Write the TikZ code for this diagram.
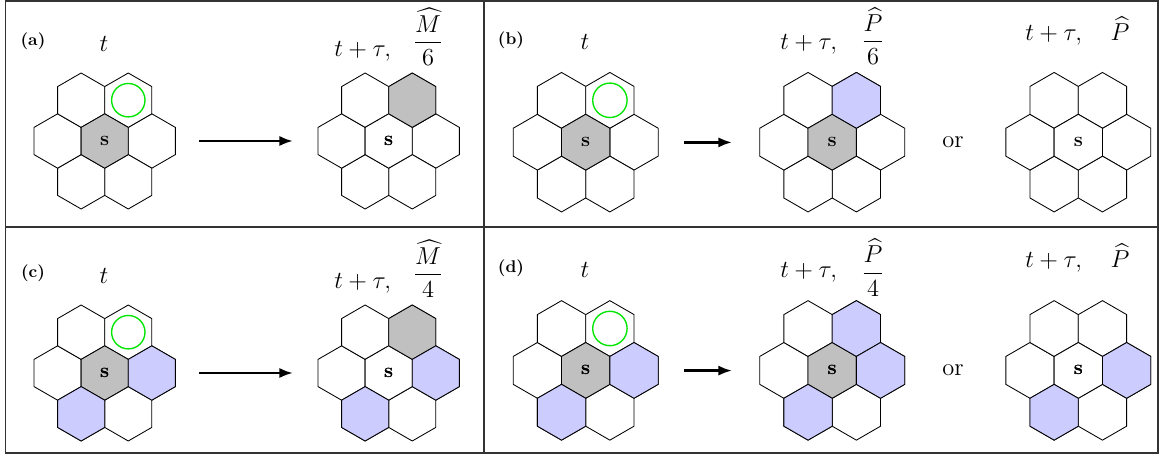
\documentclass[tikz,border=0pt]{standalone}
\usepackage{amsmath}
\usetikzlibrary{arrows.meta}
\definecolor{hexgray}{RGB}{192,192,192}
\definecolor{hexblue}{RGB}{204,204,255}
\definecolor{ringgreen}{RGB}{0,230,0}
\tikzset{
  hexline/.style={draw=black, line width=0.5pt},
  lab/.style={font=\normalsize\bfseries, inner sep=0pt},
  ttl/.style={font=\Large, inner sep=0pt},
  slab/.style={font=\large\bfseries, inner sep=0pt},
  frame/.style={draw=black!80, line width=1pt},
  arr/.style={line width=1.5pt, -{Latex[length=8pt,width=6pt]}},
  ring/.style={draw=ringgreen, line width=0.8pt}
}
\newcommand{\hexat}[4]{\begin{scope}[shift={(#1,#2)}]\filldraw[hexline,fill=#4] (30:#3) -- (90:#3) -- (150:#3) -- (210:#3) -- (270:#3) -- (330:#3) -- cycle;\end{scope}}
\newcommand{\nbhex}[5]{\pgfmathsetmacro\hexd{sqrt(3)*#3}\begin{scope}[shift={(#1,#2)},shift={(#4:\hexd)}]\filldraw[hexline,fill=#5] (30:#3) -- (90:#3) -- (150:#3) -- (210:#3) -- (270:#3) -- (330:#3) -- cycle;\end{scope}}
\newcommand{\cluster}[5]{\foreach \a in {0,60,...,300}{\nbhex{#1}{#2}{#3}{\a}{white}}\hexat{#1}{#2}{#3}{#4}\node[slab] (#5) at (#1,#2) {s};}
\begin{document}
\begin{tikzpicture}[x=0.588pt, y=-0.588pt]
\useasboundingbox (0,0) rectangle (1159,454);
% ---------- panel (a)
\node[lab] (la) at (33,41) {(a)};
\node[ttl, anchor=base] (ta) at (104,52) {$t$};
\cluster{104.7}{141}{27.2}{hexgray}{sa}
\draw[ring] (128.3,100.2) circle[radius=16.7];
\cluster{388.7}{141}{27.2}{white}{sa2}
\nbhex{388.7}{141}{27.2}{-60}{hexgray}
\node[slab] at (388.7,141) {s};
\node[ttl, anchor=base west] (tta) at (334,57) {$t+\tau,$};
\node[ttl, anchor=base] (fa) at (428,49) {$\dfrac{\widehat{M}}{6}$};
\coordinate (a1) at (199,141);
\coordinate (a2) at (293,141);
\draw[arr] (a1) -- (a2);
% ---------- panel (b)
\node[lab] (lb) at (511,40) {(b)};
\node[ttl, anchor=base] (tb) at (585,50) {$t$};
\cluster{585.7}{142.2}{27.9}{hexgray}{sb}
\draw[ring] (609.9,100.3) circle[radius=17.2];
\cluster{832.2}{142.2}{27.9}{hexgray}{sb2}
\nbhex{832.2}{142.2}{27.9}{-60}{hexblue}
\node[ttl, anchor=base west] (ttb) at (780,50) {$t+\tau,$};
\node[ttl, anchor=base] (fb) at (873,48) {$\dfrac{\widehat{P}}{6}$};
\node[ttl, anchor=base] (orb) at (953,147.3) {or};
\cluster{1078.3}{142.2}{27.9}{white}{sb3}
\node[ttl, anchor=base west] (ttb3) at (1025,41) {$t+\tau,\quad\widehat{P}$};
\coordinate (b1) at (684,142.4);
\coordinate (b2) at (732,142.4);
\draw[arr] (b1) -- (b2);
% ---------- panel (c)
\node[lab] (lc) at (33,273) {(c)};
\node[ttl, anchor=base] (tc) at (104,284) {$t$};
\cluster{104.7}{373}{27.2}{hexgray}{sc}
\nbhex{104.7}{373}{27.2}{0}{hexblue}
\nbhex{104.7}{373}{27.2}{120}{hexblue}
\node[slab] at (104.7,373) {s};
\draw[ring] (128.3,332.2) circle[radius=16.7];
\cluster{388.7}{373}{27.2}{white}{sc2}
\nbhex{388.7}{373}{27.2}{-60}{hexgray}
\nbhex{388.7}{373}{27.2}{0}{hexblue}
\nbhex{388.7}{373}{27.2}{120}{hexblue}
\node[slab] at (388.7,373) {s};
\node[ttl, anchor=base west] (ttc) at (334,289) {$t+\tau,$};
\node[ttl, anchor=base] (fc) at (428,281) {$\dfrac{\widehat{M}}{4}$};
\coordinate (c1) at (199,373);
\coordinate (c2) at (293,373);
\draw[arr] (c1) -- (c2);
% ---------- panel (d)
\node[lab] (ld) at (511,268) {(d)};
\node[ttl, anchor=base] (td) at (585,278) {$t$};
\cluster{585.7}{370.4}{27.9}{hexgray}{sd}
\nbhex{585.7}{370.4}{27.9}{0}{hexblue}
\nbhex{585.7}{370.4}{27.9}{120}{hexblue}
\node[slab] at (585.7,370.4) {s};
\draw[ring] (609.9,328.5) circle[radius=17.2];
\cluster{832.2}{370.4}{27.9}{hexgray}{sd2}
\nbhex{832.2}{370.4}{27.9}{-60}{hexblue}
\nbhex{832.2}{370.4}{27.9}{0}{hexblue}
\nbhex{832.2}{370.4}{27.9}{120}{hexblue}
\node[slab] at (832.2,370.4) {s};
\node[ttl, anchor=base west] (ttd) at (780,278) {$t+\tau,$};
\node[ttl, anchor=base] (fd) at (873,279.5) {$\dfrac{\widehat{P}}{4}$};
\node[ttl, anchor=base] (ord) at (953,375.5) {or};
\cluster{1078.3}{370.4}{27.9}{white}{sd3}
\nbhex{1078.3}{370.4}{27.9}{0}{hexblue}
\nbhex{1078.3}{370.4}{27.9}{120}{hexblue}
\node[slab] at (1078.3,370.4) {s};
\node[ttl, anchor=base west] (ttd3) at (1025,268) {$t+\tau,\quad\widehat{P}$};
\coordinate (d1) at (684,370.6);
\coordinate (d2) at (732,370.6);
\draw[arr] (d1) -- (d2);
% ---------- frame
\draw[frame] (5.5,1.2) rectangle (1157.8,452.8);
\draw[frame] (5.5,226.7) -- (1157.8,226.7);
\draw[frame] (483.7,1.2) -- (483.7,452.8);
\end{tikzpicture}
\end{document}
